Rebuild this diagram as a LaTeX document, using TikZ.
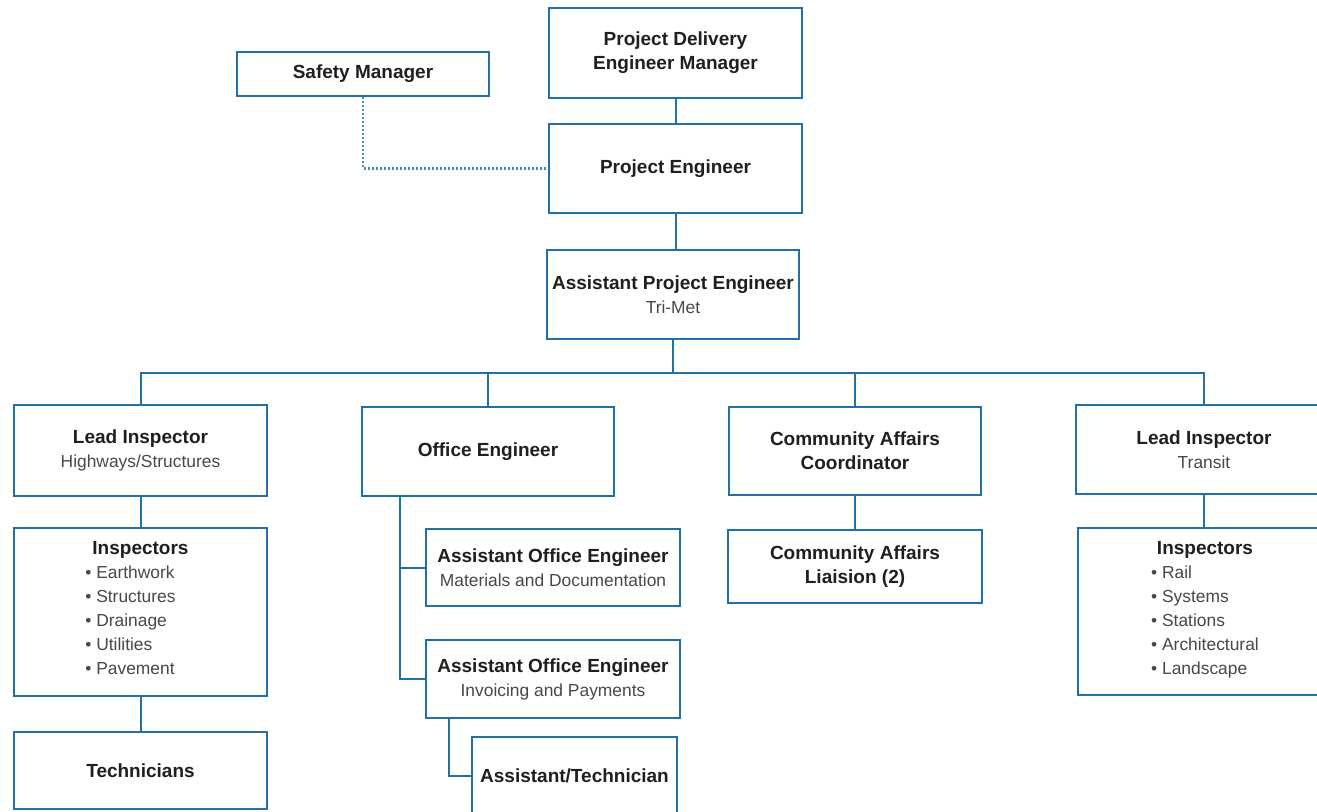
\documentclass[tikz,border=0pt]{standalone}
\usepackage{fontspec}
\setmainfont{Liberation Sans}
\definecolor{orgblue}{RGB}{33,112,168}
\definecolor{dotblue}{RGB}{70,140,180}
\definecolor{subgray}{RGB}{72,72,72}
\tikzset{
  box/.style={draw=orgblue, line width=1.25pt, fill=white, inner sep=0pt, align=center,
              font=\bfseries\fontsize{9.5}{12}\selectfont, text=black!88},
  link/.style={draw=orgblue, line width=1pt},
  dotlink/.style={draw=dotblue, line width=1.1pt, dash pattern=on 0.9pt off 1.1pt},
}
\newcommand{\subline}[1]{{\mdseries\fontsize{8.7}{12}\selectfont\color{subgray}#1}}
\newcommand{\bulletlist}[1]{{\mdseries\fontsize{8.7}{12}\selectfont\color{subgray}%
  \begin{tabular}[t]{@{}l@{}}#1\end{tabular}}}
\begin{document}
\begin{tikzpicture}[x=0.5pt, y=-0.5pt]
    % page frame
    \path[fill=white] (0,0) rectangle (1317,812);
    \useasboundingbox (0,0) rectangle (1317,812);

    % top of the chart
    \node[box, minimum width=126.5pt, minimum height=45pt] (pdem) at (675.5,53) {Project Delivery\\Engineer Manager};
    \node[box, minimum width=126pt, minimum height=22pt] (safety) at (363,74) {Safety Manager};
    \node[box, minimum width=126.5pt, minimum height=44.5pt] (pe) at (675.5,168.5) {Project Engineer};
    \node[box, minimum width=126pt, minimum height=44.5pt] (ape) at (673,294.5) {Assistant Project Engineer\\\subline{Tri-Met}};

    % second row
    \node[box, minimum width=126.5pt, minimum height=45.5pt] (lihw) at (140.5,450.5) {Lead Inspector\\\subline{Highways/Structures}};
    \node[box, minimum width=126pt, minimum height=44.5pt] (oe) at (488,451.5) {Office Engineer};
    \node[box, minimum width=126pt, minimum height=44pt] (cac) at (855,451) {Community Affairs\\Coordinator};
    \node[box, minimum width=128pt, minimum height=44.5pt] (litr) at (1204,449.5) {Lead Inspector\\\subline{Transit}};

    % under the lead inspectors
    \node[box, minimum width=126.5pt, minimum height=84pt] (insphw) at (140.5,612) {Inspectors\\
        \bulletlist{\textbullet\ Earthwork\\ \textbullet\ Structures\\ \textbullet\ Drainage\\ \textbullet\ Utilities\\ \textbullet\ Pavement}\hspace*{10pt}};
    \node[box, minimum width=126.5pt, minimum height=38.5pt] (tech) at (140.5,770.5) {Technicians};
    \node[box, minimum width=127pt, minimum height=83.5pt] (insptr) at (1205,611.5) {Inspectors\\
        \bulletlist{\textbullet\ Rail\\ \textbullet\ Systems\\ \textbullet\ Stations\\ \textbullet\ Architectural\\ \textbullet\ Landscape}};

    % office staff
    \node[box, minimum width=127pt, minimum height=38.5pt] (aoem) at (553,567.5) {Assistant Office Engineer\\\subline{Materials and Documentation}};
    \node[box, minimum width=127pt, minimum height=39pt] (aoei) at (553,679) {Assistant Office Engineer\\\subline{Invoicing and Payments}};
    \node[box, minimum width=102.5pt, minimum height=39pt] (asst) at (574.5,776) {Assistant/Technician};
    \node[box, minimum width=127pt, minimum height=36.5pt] (cal) at (855,566.5) {Community Affairs\\Liaision (2)};

    % connectors
    \draw[link] (pdem.south) -- (pe.north);
    \draw[link] (pe.south) -- (pe.south |- ape.north);
    \draw[dotlink] (safety.south) |- (pe.west);

    \coordinate (bus) at (673,373);
    \draw[link] (ape.south) -- (bus);
    \foreach \n in {lihw, oe, cac, litr}
        \draw[link] (bus) -| (\n.north);

    \draw[link] (lihw.south) -- (insphw.north);
    \draw[link] (insphw.south) -- (tech.north);
    \draw[link] (cac.south) -- (cal.north);
    \draw[link] (litr.south) -- (litr.south |- insptr.north);

    \coordinate (oetrunk) at (400,496);
    \draw[link] (oetrunk) |- (aoem.west);
    \draw[link] (oetrunk) |- (aoei.west);
    \coordinate (aoeileg) at (449,718);
    \draw[link] (aoeileg) |- (asst.west);

\end{tikzpicture}
\end{document}
